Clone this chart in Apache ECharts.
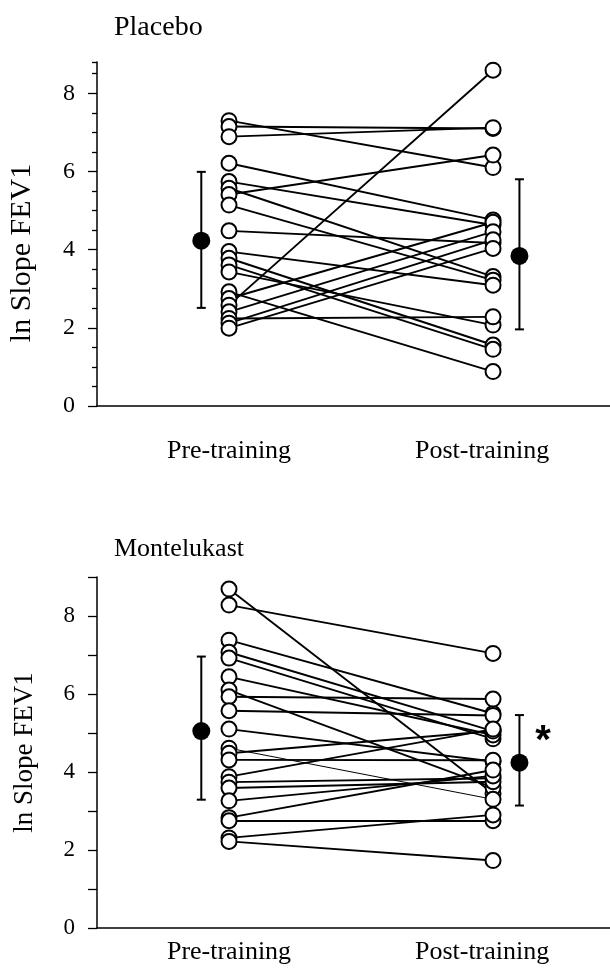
<!DOCTYPE html>
<html><head><meta charset="utf-8">
<script src="https://cdn.jsdelivr.net/npm/echarts@6/dist/echarts.min.js"></script>
<style>html,body{margin:0;padding:0;background:#fff}#c{width:610px;height:979px}</style>
</head><body><div id="c"></div>
<script>
const xLabels = ['Pre-training', 'Post-training'];
const panelTitles = ['Placebo', 'Montelukast'];
const yName = 'ln Slope FEV1';
const yTickLabels = [0, 2, 4, 6, 8];

// Individual subjects (pre -> post)
const placeboPre  = [7.30, 7.15, 6.89, 6.21, 5.74, 5.57, 5.41, 5.14, 4.48, 3.95, 3.78, 3.61, 3.43, 2.92, 2.75, 2.58, 2.41, 2.24, 2.12, 1.99];
const placeboPost = [6.10, 7.10, 7.12, 4.76, 4.63, 3.31, 6.42, 3.22, 4.17, 3.09, 1.56, 1.45, 2.07, 0.88, 4.70, 8.59, 4.46, 2.28, 4.25, 4.03];
const montePre  = [8.69, 8.28, 7.38, 7.07, 6.92, 6.44, 6.10, 5.93, 5.57, 5.10, 4.61, 4.48, 4.31, 3.88, 3.74, 3.59, 3.26, 2.83, 2.75, 2.31, 2.22];
const montePost = [3.45, 7.04, 5.50, 5.05, 4.85, 4.95, 3.60, 5.87, 5.45, 4.27, 3.30, 5.05, 4.30, 5.10, 3.84, 3.75, 3.90, 4.05, 2.75, 2.90, 1.73];
const monteThinLine = 10; // subject drawn with a thinner line in the original

// Group mean and SD bar ends [pre, post]
const placeboMean = [4.23, 3.84];
const placeboLow  = [2.51, 1.96];
const placeboHigh = [5.99, 5.80];
const monteMean = [5.05, 4.24];
const monteLow  = [3.29, 3.14];
const monteHigh = [6.96, 5.46];

const X_PRE = 1, X_POST = 3;
const MEAN_X = [0.79, 3.2];
const LABEL_X = [1, 2.917];
const XMAX = 3.886;

const chart = echarts.init(document.getElementById('c'), null, {renderer: 'canvas'});
const serif = 'Liberation Serif';

function subjectLines(gi, pre, post, thinIdx) {
  return {
    type: 'lines', coordinateSystem: 'cartesian2d', xAxisIndex: gi, yAxisIndex: gi * 2,
    data: pre.map((p, i) => {
      const item = {coords: [[X_PRE, p], [X_POST, post[i]]]};
      if (i === thinIdx) item.lineStyle = {width: 1};
      return item;
    }),
    lineStyle: {color: '#000', width: 1.9, opacity: 1}, z: 2, silent: true
  };
}
function subjectCircles(gi, pre, post) {
  const d = pre.map(v => [X_PRE, v]).concat(post.map(v => [X_POST, v]));
  return {
    type: 'scatter', xAxisIndex: gi, yAxisIndex: gi * 2, data: d, symbol: 'circle', symbolSize: 15,
    itemStyle: {color: '#fff', borderColor: '#000', borderWidth: 2, opacity: 1}, z: 3, silent: true
  };
}
function meanDots(gi, means) {
  return {
    type: 'scatter', xAxisIndex: gi, yAxisIndex: gi * 2, data: means.map((m, i) => [MEAN_X[i], m]),
    symbolSize: 18, itemStyle: {color: '#000', opacity: 1}, z: 5, silent: true
  };
}
function errBars(gi, lows, highs) {
  return {
    type: 'custom', xAxisIndex: gi, yAxisIndex: gi * 2,
    data: lows.map((l, i) => [MEAN_X[i], l, highs[i]]),
    encode: {x: 0, y: [1, 2]},
    renderItem(params, api) {
      const x = api.value(0);
      const lo = api.coord([x, api.value(1)]);
      const hi = api.coord([x, api.value(2)]);
      const w = 4.5, st = {stroke: '#000', lineWidth: 2};
      return {type: 'group', children: [
        {type: 'line', shape: {x1: lo[0], y1: lo[1], x2: hi[0], y2: hi[1]}, style: st},
        {type: 'line', shape: {x1: lo[0] - w, y1: lo[1], x2: lo[0] + w, y2: lo[1]}, style: st},
        {type: 'line', shape: {x1: hi[0] - w, y1: hi[1], x2: hi[0] + w, y2: hi[1]}, style: st}
      ]};
    }, z: 4, silent: true
  };
}

function xAxis(gi, margin) {
  return {
    type: 'value', gridIndex: gi, min: 0, max: XMAX,
    axisLine: {show: true, onZero: false, lineStyle: {color: '#000', width: 1.5}},
    axisTick: {show: false}, splitLine: {show: false},
    axisLabel: {
      customValues: LABEL_X, margin: margin,
      formatter: v => (v < 2 ? xLabels[0] : xLabels[1]),
      color: '#000', fontFamily: serif, fontSize: 26
    }
  };
}

const option = {
  animation: false,
  backgroundColor: '#fff',
  title: [
    {text: panelTitles[0], left: 109, top: 9, textStyle: {fontFamily: serif, fontWeight: 'normal', fontSize: 28, color: '#000'}},
    {text: panelTitles[1], left: 109, top: 531, textStyle: {fontFamily: serif, fontWeight: 'normal', fontSize: 26, color: '#000'}}
  ],
  grid: [
    {left: 97, top: 62, width: 513, height: 344, outerBoundsMode: 'none', containLabel: false},
    {left: 97, top: 577, width: 513, height: 351, outerBoundsMode: 'none', containLabel: false}
  ],
  xAxis: [xAxis(0, 32), xAxis(1, 11)],
  yAxis: [
    { // top panel: axis line + minor ticks
      type: 'value', gridIndex: 0, min: 0, max: 8.8, position: 'left',
      axisLine: {show: true, lineStyle: {color: '#000', width: 1.5}},
      axisTick: {show: true, length: 5, customValues: [0.5,1,1.5,2.5,3,3.5,4.5,5,5.5,6.5,7,7.5,8.5,8.8], lineStyle: {color: '#000', width: 1.3}},
      axisLabel: {show: false}, splitLine: {show: false}
    },
    { // top panel: major ticks + labels
      type: 'value', gridIndex: 0, min: 0, max: 8.8, position: 'left', offset: 0,
      axisLine: {show: false},
      axisTick: {show: true, length: 9, customValues: yTickLabels, lineStyle: {color: '#000', width: 1.3}},
      axisLabel: {customValues: yTickLabels, margin: 22, color: '#000', fontFamily: serif, fontSize: 24},
      splitLine: {show: false},
      name: yName, nameLocation: 'middle', nameRotate: 90, nameGap: 60,
      nameTextStyle: {fontFamily: serif, fontSize: 30, color: '#000', padding: [0, 38, 0, 0]}
    },
    { // bottom panel
      type: 'value', gridIndex: 1, min: 0, max: 9, position: 'left',
      axisLine: {show: true, lineStyle: {color: '#000', width: 1.5}},
      axisTick: {show: true, length: 9, customValues: [0,1,2,3,4,5,6,7,8,9], lineStyle: {color: '#000', width: 1.3}},
      axisLabel: {customValues: yTickLabels, margin: 22, color: '#000', fontFamily: serif, fontSize: 23},
      splitLine: {show: false},
      name: yName, nameLocation: 'middle', nameRotate: 90, nameGap: 59,
      nameTextStyle: {fontFamily: serif, fontSize: 27, color: '#000'}
    }
  ],
  series: [
    subjectLines(0, placeboPre, placeboPost, -1),
    subjectCircles(0, placeboPre, placeboPost),
    errBars(0, placeboLow, placeboHigh),
    meanDots(0, placeboMean),
    subjectLines(1, montePre, montePost, monteThinLine),
    subjectCircles(1, montePre, montePost),
    errBars(1, monteLow, monteHigh),
    meanDots(1, monteMean),
    { // significance marker
      type: 'scatter', xAxisIndex: 1, yAxisIndex: 2, data: [[3.379, 4.78]], symbolSize: 1,
      itemStyle: {color: 'rgba(0,0,0,0)', opacity: 1}, silent: true, z: 6,
      label: {show: true, position: 'inside', formatter: '*', color: '#000', opacity: 1, fontFamily: 'Liberation Sans', fontWeight: 'bold', fontSize: 40}
    }
  ]
};
chart.setOption(option);
</script>
</body></html>
